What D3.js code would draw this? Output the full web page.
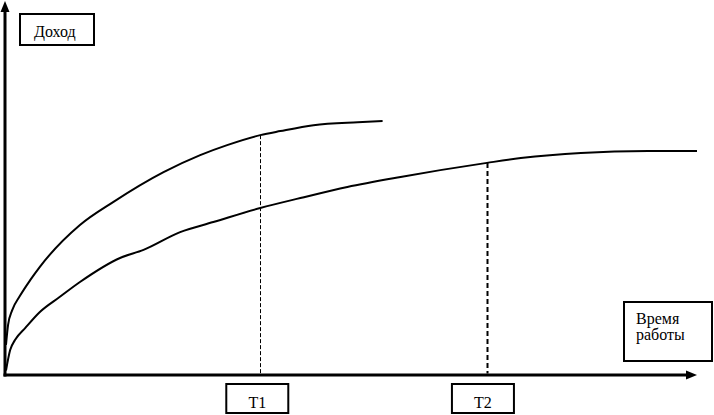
<!DOCTYPE html>
<html><head><meta charset="utf-8">
<script src="https://cdn.jsdelivr.net/npm/d3@7"></script>
<style>html,body{margin:0;padding:0;background:#fff;}svg{display:block;}</style>
</head><body>
<svg id="chart" width="714" height="415"></svg>
<script>
// Time (x) and income (y) in arbitrary units 0..100
const upperTime   = [0, 0.3, 0.9, 2.0, 3.5, 4.9, 10.7, 15.5, 22.8, 28.1, 32.0, 36.8, 39.7, 44.5, 50.9, 54.5];
const upperIncome = [8.4, 13.8, 17.8, 21.6, 25.9, 29.5, 40.8, 47.0, 55.1, 59.7, 62.4, 65.1, 66.2, 67.8, 68.6, 68.9];
const lowerTime   = [0, 0.6, 1.3, 2.8, 4.9, 7.8, 10.7, 16.5, 19.9, 25.2, 30.0, 36.8, 42.6, 49.4, 57.1, 69.6, 74.5, 83.2, 92.9, 100];
const lowerIncome = [1.5, 7.0, 9.7, 13.0, 17.3, 21.4, 25.4, 31.9, 34.1, 38.9, 41.6, 45.4, 48.1, 51.1, 53.8, 57.6, 58.9, 60.3, 60.8, 60.8];
const markerLabels = ["T1", "T2"];
const markerTime   = [36.8, 69.6];
const markerIncome = [65.1, 57.6];
const yLabel = "Доход";
const xLabelLines = ["Время", "работы"];

const svg = d3.select("#chart");
const x = d3.scaleLinear().domain([0, 100]).range([6, 697]);
const y = d3.scaleLinear().domain([0, 100]).range([376, 6]);
const font = "'Liberation Serif', 'DejaVu Serif', 'Times New Roman', serif";

// axes
const ox = 5, oy = 375;
svg.append("line").attr("x1", ox).attr("y1", oy + 1.5).attr("x2", ox).attr("y2", 10)
  .attr("stroke", "#000").attr("stroke-width", 3);
svg.append("path").attr("d", `M${ox - 4.5},12 L${ox + 4.5},12 L${ox},1 Z`).attr("fill", "#000");
svg.append("line").attr("x1", ox - 1.5).attr("y1", oy).attr("x2", 688).attr("y2", oy)
  .attr("stroke", "#000").attr("stroke-width", 3);
svg.append("path").attr("d", `M686,${oy - 4.5} L686,${oy + 4.5} L697,${oy} Z`).attr("fill", "#000");

// curves
const line = d3.line().x(d => x(d[0])).y(d => y(d[1])).curve(d3.curveMonotoneX);
const upper = upperTime.map((t, i) => [t, upperIncome[i]]);
const lower = lowerTime.map((t, i) => [t, lowerIncome[i]]);
[upper, lower].forEach(data => {
  svg.append("path").attr("d", line(data)).attr("fill", "none")
    .attr("stroke", "#000").attr("stroke-width", 2);
});

// marker dashed lines
const dashes = [{w: 1, d: "4,2"}, {w: 2, d: "5,3"}];
markerTime.forEach((t, i) => {
  svg.append("line").attr("x1", Math.round(x(t)) + 0.5).attr("x2", Math.round(x(t)) + 0.5)
    .attr("y1", y(markerIncome[i])).attr("y2", oy - 1.5)
    .attr("stroke", "#000").attr("stroke-width", dashes[i].w).attr("stroke-dasharray", dashes[i].d);
});

// marker boxes
markerTime.forEach((t, i) => {
  const cx = x(t) - 3 + i * (-1);
  svg.append("rect").attr("x", cx - 31).attr("y", 384).attr("width", 62).attr("height", 29)
    .attr("fill", "#fff").attr("stroke", "#000").attr("stroke-width", 2);
  svg.append("text").attr("x", cx).attr("y", 408).attr("text-anchor", "middle")
    .style("font-family", font).attr("font-size", 16).text(markerLabels[i]);
});

// y label box
svg.append("rect").attr("x", 20).attr("y", 14).attr("width", 74).attr("height", 31)
  .attr("fill", "#fff").attr("stroke", "#000").attr("stroke-width", 2);
svg.append("text").attr("x", 34).attr("y", 37).style("font-family", font).attr("font-size", 16).text(yLabel);

// x label box
svg.append("rect").attr("x", 624).attr("y", 302).attr("width", 88).attr("height", 59)
  .attr("fill", "#fff").attr("stroke", "#000").attr("stroke-width", 2);
xLabelLines.forEach((s, i) => {
  svg.append("text").attr("x", 636).attr("y", 324 + i * 16).style("font-family", font)
    .attr("font-size", 16).text(s);
});
</script>
</body></html>
